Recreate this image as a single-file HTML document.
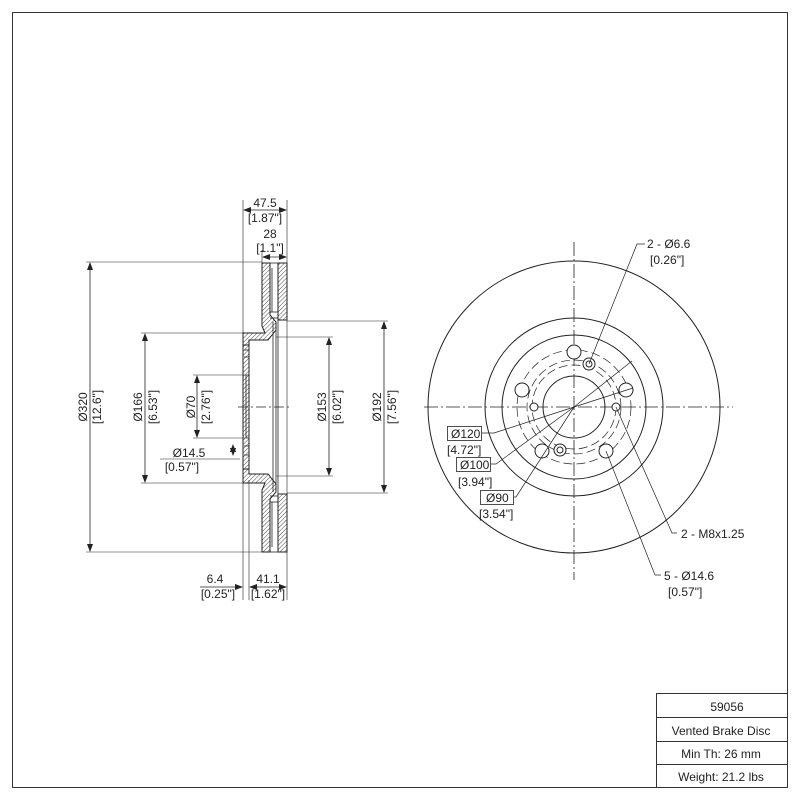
<!DOCTYPE html>
<html><head><meta charset="utf-8"><style>
html,body{margin:0;padding:0;background:#fff}
svg{display:block}
text{font-family:"Liberation Sans",sans-serif;font-size:12px;fill:#222}
</style></head><body>
<svg width="800" height="800" viewBox="0 0 800 800" xmlns="http://www.w3.org/2000/svg">
<defs>
<pattern id="h" patternUnits="userSpaceOnUse" width="3" height="3" patternTransform="rotate(45)">
<rect width="3" height="3" fill="#fff"/><line x1="0" y1="0" x2="0" y2="3" stroke="#333" stroke-width="0.9"/>
</pattern>
<marker id="a" markerWidth="8" markerHeight="6" refX="7" refY="3" orient="auto-start-reverse" markerUnits="userSpaceOnUse"><path d="M0,0 L8,3 L0,6z" fill="#222"/></marker>
</defs>
<rect x="12.5" y="12.5" width="775" height="775" fill="none" stroke="#333"/>
<g stroke="#333" fill="none">
<rect x="656.5" y="693.5" width="131" height="94"/>
<line x1="656" y1="717.5" x2="787" y2="717.5"/>
<line x1="656" y1="741.5" x2="787" y2="741.5"/>
<line x1="656" y1="764.5" x2="787" y2="764.5"/>
</g>
<g text-anchor="middle" style="font-size:13px">
<text x="727" y="711">59056</text>
<text x="721" y="735">Vented Brake Disc</text>
<text x="721" y="758">Min Th: 26 mm</text>
<text x="721" y="781">Weight: 21.2 lbs</text>
</g>

<g stroke="#222" stroke-width="1">
<path d="M262,263 L270,263 L270,315 L276,322 L276,330 L268,340 L249,340 L249,345 L243,345 L243,333 L265,333 L262,326 Z" fill="url(#h)"/>
<path d="M278,263 L287,263 L287,320 L278,320 Z" fill="url(#h)"/>
<path d="M262,552 L270,552 L270,499 L276,492 L276,484 L268,474 L249,474 L249,469 L243,469 L243,483 L265,483 L262,490 Z" fill="url(#h)"/>
<path d="M278,552 L287,552 L287,494 L278,494 Z" fill="url(#h)"/>
<rect x="243" y="345" width="6" height="124" fill="url(#h)"/>
</g>
<g stroke="#222" stroke-width="0.8" fill="none">
<line x1="270" y1="263" x2="278" y2="263"/><line x1="270" y1="552" x2="278" y2="552"/>
<line x1="270" y1="312" x2="278" y2="312"/><line x1="270" y1="318" x2="278" y2="318"/>
<line x1="270" y1="502" x2="278" y2="502"/><line x1="270" y1="496" x2="278" y2="496"/>
<line x1="272" y1="268" x2="272" y2="312"/><line x1="272" y1="502" x2="272" y2="547"/>
<line x1="273" y1="322" x2="273" y2="492"/><line x1="276" y1="322" x2="276" y2="492"/>
<line x1="278" y1="320" x2="278" y2="494"/>
<line x1="244" y1="350" x2="249" y2="350"/><line x1="244" y1="357" x2="249" y2="357"/>
<line x1="244" y1="446" x2="249" y2="446"/><line x1="244" y1="455" x2="249" y2="455"/>
<line x1="246" y1="375" x2="249" y2="375"/><line x1="246" y1="438" x2="249" y2="438"/>
<line x1="246" y1="375" x2="246" y2="438"/>
</g>
<line x1="238" y1="407" x2="292" y2="407" stroke="#222" stroke-width="0.8" stroke-dasharray="10,3,2,3"/>
<g stroke="#222" stroke-width="0.6" fill="none">
<line x1="243" y1="200" x2="243" y2="600"/><line x1="249" y1="480" x2="249" y2="600"/>
<line x1="287" y1="200" x2="287" y2="600"/><line x1="262" y1="250" x2="262" y2="263"/>
<line x1="86" y1="262" x2="262" y2="262"/><line x1="86" y1="552" x2="262" y2="552"/>
<line x1="141" y1="333" x2="243" y2="333"/><line x1="141" y1="483" x2="243" y2="483"/>
<line x1="193" y1="375" x2="246" y2="375"/><line x1="193" y1="438" x2="246" y2="438"/>
<line x1="276" y1="337" x2="333" y2="337"/><line x1="276" y1="476" x2="333" y2="476"/>
<line x1="287" y1="321" x2="388" y2="321"/><line x1="287" y1="493" x2="388" y2="493"/>
<line x1="160" y1="459" x2="240" y2="459"/>
</g>
<g stroke="#222" stroke-width="0.8" fill="none" marker-start="url(#a)" marker-end="url(#a)">
<line x1="90" y1="263" x2="90" y2="551"/>
<line x1="145" y1="334" x2="145" y2="482"/>
<line x1="197" y1="376" x2="197" y2="437"/>
<line x1="329" y1="338" x2="329" y2="475"/>
<line x1="384" y1="322" x2="384" y2="492"/>
<line x1="244" y1="210" x2="286" y2="210"/>
<line x1="263" y1="257" x2="286" y2="257"/>
<line x1="250" y1="587" x2="286" y2="587"/>
</g>
<g stroke="#222" stroke-width="0.8" fill="none">
<line x1="200" y1="587" x2="242" y2="587" marker-end="url(#a)"/>
<line x1="233" y1="445" x2="233" y2="455" marker-start="url(#a)" marker-end="url(#a)"/>
</g>
<g text-anchor="middle">
<text x="265" y="207">47.5</text><text x="265" y="222">[1.87"]</text>
<text x="270" y="238">28</text><text x="270" y="252">[1.1"]</text>
<text x="215" y="583">6.4</text><text x="218" y="598">[0.25"]</text>
<text x="268" y="583">41.1</text><text x="268" y="598">[1.62"]</text>
<text x="189" y="457">Ø14.5</text><text x="182" y="471">[0.57"]</text>
<text transform="translate(87,407) rotate(-90)">Ø320</text>
<text transform="translate(101,407) rotate(-90)">[12.6"]</text>
<text transform="translate(142,407) rotate(-90)">Ø166</text>
<text transform="translate(157,407) rotate(-90)">[6.53"]</text>
<text transform="translate(195,407) rotate(-90)">Ø70</text>
<text transform="translate(210,407) rotate(-90)">[2.76"]</text>
<text transform="translate(326,407) rotate(-90)">Ø153</text>
<text transform="translate(341,407) rotate(-90)">[6.02"]</text>
<text transform="translate(381,407) rotate(-90)">Ø192</text>
<text transform="translate(396,407) rotate(-90)">[7.56"]</text>
</g>

<g stroke="#222" stroke-width="1" fill="none">
<circle cx="574" cy="407" r="146"/>
<circle cx="574" cy="407" r="89"/>
<circle cx="574" cy="407" r="72"/>
<circle cx="574" cy="407" r="31"/>
</g>
<g stroke="#222" stroke-width="0.7" fill="none" stroke-dasharray="9,4">
<circle cx="574" cy="407" r="42"/>
<circle cx="574" cy="407" r="47"/>
<circle cx="574" cy="407" r="57"/>
</g>
<g stroke="#222" stroke-width="0.8" stroke-dasharray="14,3,2,3">
<line x1="424" y1="407" x2="733" y2="407"/>
<line x1="574" y1="242" x2="574" y2="580"/>
</g>
<g stroke="#222" stroke-width="1" fill="#fff">
<circle cx="574" cy="352" r="7"/>
<circle cx="626" cy="390" r="7"/>
<circle cx="606" cy="451" r="7"/>
<circle cx="542" cy="451" r="7"/>
<circle cx="522" cy="390" r="7"/>
<circle cx="589" cy="364" r="6"/><circle cx="589" cy="364" r="3"/>
<circle cx="560" cy="450" r="6"/><circle cx="560" cy="450" r="3"/>
<circle cx="534" cy="407" r="4"/>
<circle cx="616" cy="407" r="4"/>
</g>
<g stroke="#222" stroke-width="0.7" fill="none">
<polyline points="645,244 637,244 589,364"/>
<line x1="574" y1="407" x2="632" y2="361"/>
<line x1="574" y1="407" x2="633" y2="388"/>
<polyline points="482,433 494,433 574,407"/>
<polyline points="491,464 496,464 574,407"/>
<polyline points="514,497 516,497 574,407"/>
<polyline points="677,533 672,533 616,407"/>
<polyline points="661,575 655,575 606,451"/>
</g>
<g stroke="#222" stroke-width="0.8" fill="none">
<rect x="447.5" y="426.5" width="34" height="14"/>
<rect x="456.5" y="457.5" width="34" height="14"/>
<rect x="480.5" y="490.5" width="33" height="14"/>
</g>
<text x="451" y="438">Ø120</text><text x="447" y="454">[4.72"]</text>
<text x="460" y="469">Ø100</text><text x="458" y="486">[3.94"]</text>
<text x="486" y="502">Ø90</text><text x="479" y="518">[3.54"]</text>
<text x="647" y="248">2 - Ø6.6</text><text x="650" y="264">[0.26"]</text>
<text x="681" y="538">2 - M8x1.25</text>
<text x="664" y="580">5 - Ø14.6</text><text x="668" y="596">[0.57"]</text>
</svg>
</body></html>
